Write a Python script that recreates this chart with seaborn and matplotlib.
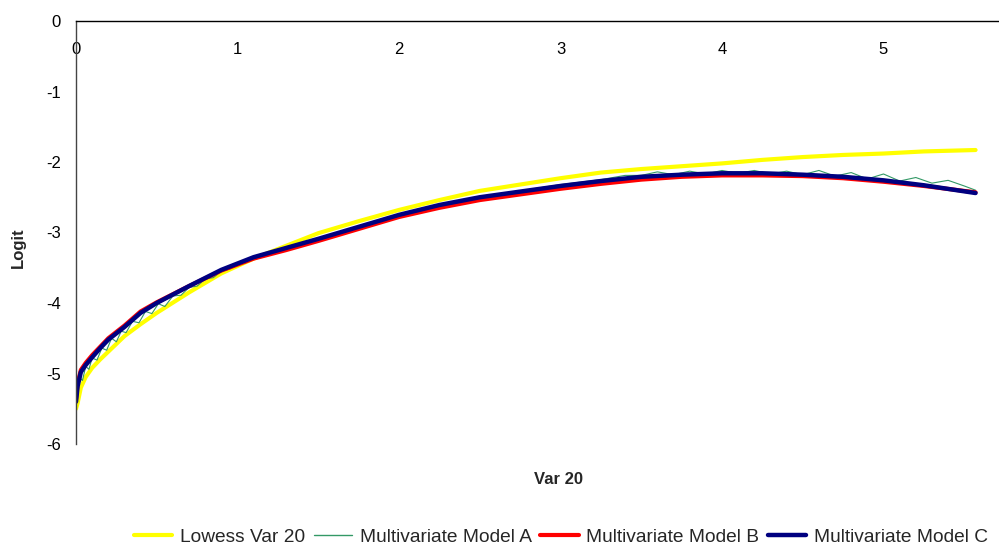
import matplotlib
matplotlib.use("Agg")
import matplotlib.pyplot as plt
import seaborn as sns
import pandas as pd
from matplotlib.lines import Line2D

sns.set_theme(style="white")
plt.rcParams['font.family'] = ['Liberation Sans', 'DejaVu Sans']

# ---- data ----
x_grid = [0, 0.01, 0.03, 0.06, 0.1, 0.15, 0.2, 0.3, 0.4, 0.5, 0.7, 0.9, 1.1, 1.3, 1.5,
          1.75, 2.0, 2.25, 2.5, 2.75, 3.0, 3.25, 3.5, 3.75, 4.0, 4.25, 4.5, 4.75,
          5.0, 5.25, 5.57]
lowess = [-5.50, -5.42, -5.20, -5.05, -4.92, -4.80, -4.69, -4.47, -4.30, -4.14, -3.85,
          -3.58, -3.37, -3.19, -3.01, -2.84, -2.68, -2.54, -2.41, -2.32, -2.23, -2.15,
          -2.10, -2.06, -2.02, -1.97, -1.93, -1.90, -1.88, -1.85, -1.83]
model_b = [-5.36, -5.14, -4.95, -4.85, -4.74, -4.62, -4.50, -4.32, -4.12, -3.99, -3.76,
           -3.54, -3.37, -3.25, -3.12, -2.95, -2.78, -2.65, -2.54, -2.46, -2.38, -2.31,
           -2.25, -2.21, -2.19, -2.19, -2.20, -2.23, -2.28, -2.34, -2.43]
model_c = [-5.40, -5.18, -4.98, -4.88, -4.77, -4.64, -4.52, -4.34, -4.14, -4.00, -3.76,
           -3.53, -3.35, -3.22, -3.09, -2.92, -2.75, -2.61, -2.50, -2.42, -2.34, -2.27,
           -2.21, -2.18, -2.16, -2.16, -2.18, -2.21, -2.26, -2.33, -2.44]

x_a = [0.00, 0.02, 0.04, 0.06, 0.08, 0.10, 0.13, 0.16, 0.19, 0.22, 0.25, 0.28, 0.31,
       0.35, 0.39, 0.43, 0.47, 0.51, 0.55, 0.60, 0.65, 0.70, 0.75, 0.80, 0.85, 0.90,
       0.95, 1.00, 1.05, 1.10, 1.15, 1.20, 1.35, 1.5, 1.75, 2.0, 2.25, 2.5, 2.75, 3.0,
       3.25, 3.4, 3.5, 3.6, 3.7, 3.8, 3.9, 4.0, 4.1, 4.2, 4.3, 4.4, 4.5, 4.6, 4.7, 4.8,
       4.9, 5.0, 5.1, 5.2, 5.3, 5.4, 5.5, 5.57]
model_a = [-5.45, -5.05, -5.10, -4.90, -4.94, -4.78, -4.81, -4.64, -4.67, -4.50, -4.55,
           -4.40, -4.42, -4.26, -4.28, -4.12, -4.15, -4.01, -4.05, -3.90, -3.89, -3.78,
           -3.76, -3.66, -3.64, -3.55, -3.52, -3.46, -3.43, -3.37, -3.34, -3.30, -3.20,
           -3.10, -2.93, -2.76, -2.62, -2.50, -2.41, -2.32, -2.25, -2.19, -2.19, -2.14,
           -2.18, -2.13, -2.17, -2.12, -2.16, -2.12, -2.17, -2.13, -2.18, -2.12, -2.20,
           -2.15, -2.24, -2.17, -2.27, -2.22, -2.30, -2.26, -2.34, -2.40]

series_names = ["Lowess Var 20", "Multivariate Model A", "Multivariate Model B",
                "Multivariate Model C"]
colors = ["#FFFF00", "#339966", "#FF0000", "#000080"]
widths = [3.0, 0.8, 3.0, 3.2]
x_ticks = [0, 1, 2, 3, 4, 5]
y_ticks = [0, -1, -2, -3, -4, -5, -6]

frames = [
    pd.DataFrame({"x": x_grid, "y": lowess, "s": series_names[0]}),
    pd.DataFrame({"x": x_a, "y": model_a, "s": series_names[1]}),
    pd.DataFrame({"x": x_grid, "y": model_b, "s": series_names[2]}),
    pd.DataFrame({"x": x_grid, "y": model_c, "s": series_names[3]}),
]

fig = plt.figure(figsize=(9.99, 5.47), dpi=100)
ax = fig.add_axes([76/999, 103/547, 923/999, 423/547])

for df, c, w in zip(frames, colors, widths):
    sns.lineplot(data=df, x="x", y="y", ax=ax, color=c, lw=w, sort=False,
                 estimator=None, legend=False)

ax.set_xlim(0, 923/161.5)
ax.set_ylim(-6, 0)
ax.set_xticks(x_ticks)
ax.set_yticks(y_ticks)
ax.set_xticklabels([str(t) for t in x_ticks])
ax.set_yticklabels([str(t) for t in y_ticks])

for sp in ["right", "top"]:
    ax.spines[sp].set_visible(False)
ax.spines["bottom"].set_position(("data", 0))
ax.spines["bottom"].set_color("black")
ax.spines["left"].set_color("#444444")
ax.spines["bottom"].set_linewidth(1.0)
ax.spines["left"].set_linewidth(1.0)
ax.tick_params(axis="x", direction="out", length=4, width=0.8, color="#555555",
               pad=11, labelsize=12, labelcolor="black")
ax.tick_params(axis="y", direction="out", length=4, width=0.8, color="#444444",
               pad=7, labelsize=12, labelcolor="black")
ax.set_xlabel("")
ax.set_ylabel("")
ax.grid(False)

fig.text(559/999, 1-480/547, "Var 20", ha="center", va="center", fontsize=12,
         fontweight="bold")
fig.text(18/999, 1-248/547, "Logit", ha="center", va="center", fontsize=12,
         fontweight="bold", rotation=90)

handles = [Line2D([], [], color=c, lw=(w if w > 1 else 1.0)) for c, w in zip(colors, widths)]
fig.legend(handles, series_names, loc="center", bbox_to_anchor=(561/999, 1-537/547),
           ncol=4, frameon=False, fontsize=13.8, handlelength=2.0, handletextpad=0.4,
           columnspacing=0.45, borderaxespad=0)

fig.savefig("out.png", dpi=100)
